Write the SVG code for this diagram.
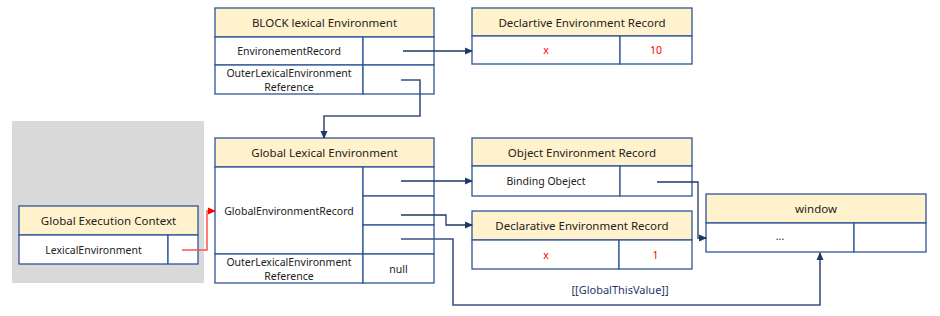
<svg xmlns="http://www.w3.org/2000/svg" width="940" height="316" viewBox="0 0 940 316">
<defs>
<marker id="ah" markerWidth="8" markerHeight="8" refX="7" refY="4" orient="auto" markerUnits="userSpaceOnUse"><path d="M0,0.5 L8,4 L0,7.5 z" fill="#1f3864"/></marker>
<marker id="ahr" markerWidth="8" markerHeight="8" refX="7" refY="4" orient="auto" markerUnits="userSpaceOnUse"><path d="M0,0.5 L8,4 L0,7.5 z" fill="#ff0000"/></marker>
<style>
.hd{fill:#fff2cc;stroke:#2f5597;stroke-width:1.3}
.cell{fill:#ffffff;stroke:#2f5597;stroke-width:1.3}
.ht{font-family:"Noto Sans",sans-serif;font-size:11.5px;font-weight:400;fill:#222;text-anchor:middle;dominant-baseline:central}
.t{font-family:"Noto Sans",sans-serif;font-size:10.5px;font-weight:400;fill:#222;text-anchor:middle;dominant-baseline:central}
.r{fill:#ff0000}
.c{fill:none;stroke:#1f3864;stroke-width:1.3}
.c2{fill:none;stroke:#3a5283;stroke-width:1.6}
.cr{fill:none;stroke:#ff5050;stroke-width:1.5}
</style>
</defs>
<rect x="12" y="121" width="192" height="162" fill="#d9d9d9"/>

<g id="block">
<rect class="hd" x="215" y="8" width="219" height="29"/>
<text class="ht" x="324.5" y="22.5">BLOCK lexical Environment</text>
<rect class="cell" x="215" y="37" width="148" height="28"/>
<rect class="cell" x="363" y="37" width="71" height="28"/>
<text class="t" x="289" y="51">EnvironementRecord</text>
<rect class="cell" x="215" y="65" width="148" height="29"/>
<rect class="cell" x="363" y="65" width="71" height="29"/>
<text class="t" x="289" y="72.5">OuterLexicalEnvironment</text>
<text class="t" x="289" y="86.5">Reference</text>
</g>

<g id="decl10">
<rect class="hd" x="472" y="8" width="220" height="28"/>
<text class="ht" x="582" y="22">Declartive Environment Record</text>
<rect class="cell" x="472" y="36" width="148" height="28"/>
<rect class="cell" x="620" y="36" width="72" height="28"/>
<text class="t r" x="546" y="50">x</text>
<text class="t r" x="656" y="50">10</text>
</g>

<g id="global">
<rect class="hd" x="215" y="138" width="219" height="29"/>
<text class="ht" x="324.5" y="152.5">Global Lexical Environment</text>
<rect class="cell" x="215" y="167" width="148" height="87"/>
<text class="t" x="289" y="211">GlobalEnvironmentRecord</text>
<rect class="cell" x="363" y="167" width="71" height="29"/>
<rect class="cell" x="363" y="196" width="71" height="29"/>
<rect class="cell" x="363" y="225" width="71" height="29"/>
<rect class="cell" x="215" y="254" width="148" height="29"/>
<rect class="cell" x="363" y="254" width="71" height="29"/>
<text class="t" x="289" y="261.5">OuterLexicalEnvironment</text>
<text class="t" x="289" y="275.5">Reference</text>
<text class="t" x="398.5" y="268.5">null</text>
</g>

<g id="objenv">
<rect class="hd" x="472" y="138" width="220" height="28"/>
<text class="ht" x="582" y="152">Object Environment Record</text>
<rect class="cell" x="472" y="166" width="148" height="30"/>
<rect class="cell" x="620" y="166" width="72" height="30"/>
<text class="t" x="546" y="181">Binding Obeject</text>
</g>

<g id="decl1">
<rect class="hd" x="472" y="211" width="220" height="29"/>
<text class="ht" x="582" y="225.5">Declarative Environment Record</text>
<rect class="cell" x="472" y="240" width="147" height="29"/>
<rect class="cell" x="619" y="240" width="73" height="29"/>
<text class="t r" x="546" y="254.5">x</text>
<text class="t r" x="655.5" y="254.5">1</text>
</g>

<g id="window">
<rect class="hd" x="706" y="194" width="220" height="29"/>
<text class="ht" x="816" y="208.5">window</text>
<rect class="cell" x="706" y="223" width="148" height="29"/>
<rect class="cell" x="854" y="223" width="72" height="29"/>
<text class="t" x="780" y="236">...</text>
</g>

<g id="gec">
<rect class="hd" x="19" y="206" width="179" height="29"/>
<text class="ht" x="108.5" y="220.5">Global Execution Context</text>
<rect class="cell" x="19" y="235" width="149" height="29"/>
<rect class="cell" x="168" y="235" width="30" height="29"/>
<text class="t" x="93.5" y="249.5">LexicalEnvironment</text>
</g>

<g id="connectors">
<path class="c" d="M403,51 H472" marker-end="url(#ah)"/>
<path class="c2" d="M401,80 H420 V116 H324 V138" marker-end="url(#ah)"/>
<path class="c" d="M401,181 H472" marker-end="url(#ah)"/>
<path class="c" d="M401,215 H446 V225 H472" marker-end="url(#ah)"/>
<path class="c2" d="M401,239 H453 V305 H820 V253" marker-end="url(#ah)"/>
<path class="c" d="M657,182 H698 V238 H706" marker-end="url(#ah)"/>
<path class="cr" d="M182,250 H207 V211 H215" marker-end="url(#ahr)"/>
<text x="620" y="289" font-family="'Noto Sans',sans-serif" font-size="11" fill="#1f3864" text-anchor="middle" dominant-baseline="central">[[GlobalThisValue]]</text>
</g>
</svg>
